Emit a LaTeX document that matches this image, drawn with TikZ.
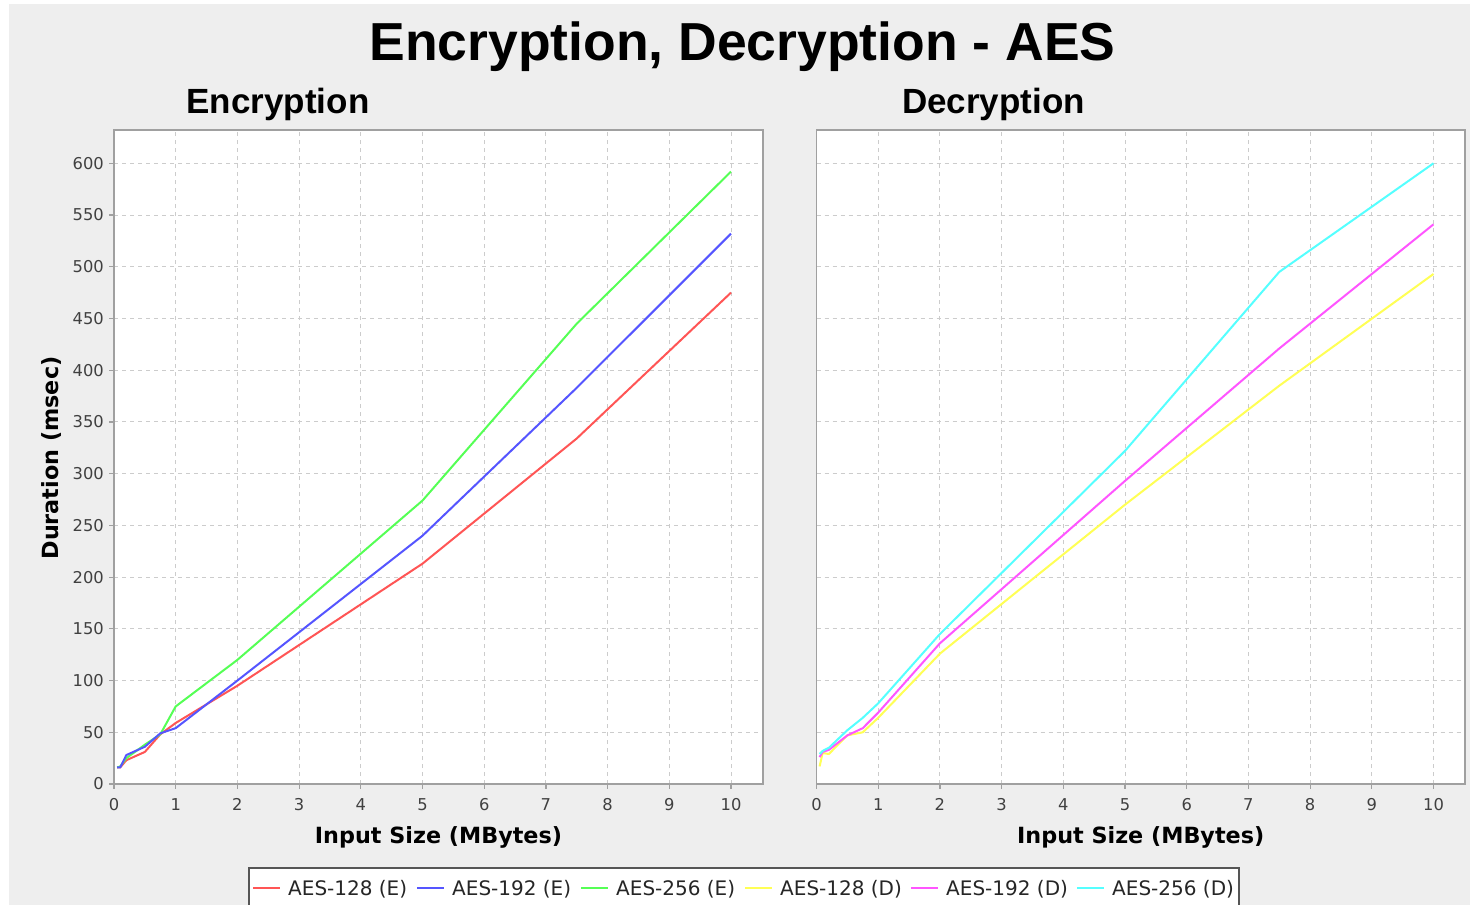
\documentclass[tikz,border=0pt]{standalone}
\usepackage{fontspec}
\setmainfont{DejaVu Sans}
\newfontfamily\titlefont{Liberation Sans}
\definecolor{bgc}{HTML}{EEEEEE}
\definecolor{gridc}{HTML}{CCCCCC}
\definecolor{framec}{HTML}{A0A0A0}
\definecolor{tickc}{HTML}{404040}
\definecolor{legc}{HTML}{555555}
\definecolor{sred}{HTML}{FF5555}
\definecolor{sblue}{HTML}{5555FF}
\definecolor{sgreen}{HTML}{55FF55}
\definecolor{syellow}{HTML}{FFFF55}
\definecolor{smag}{HTML}{FF55FF}
\definecolor{scyan}{HTML}{55FFFF}
\tikzset{
  gridline/.style={draw=gridc, line width=1pt, dash pattern=on 4pt off 4pt},
  framebox/.style={draw=framec, line width=1.6pt},
  tickline/.style={draw=framec, line width=1.2pt},
  ticklab/.style={text=tickc, inner sep=0pt, font=\fontsize{16.3}{18}\selectfont},
  axlab/.style={inner sep=0pt, font=\fontsize{22.3}{26}\selectfont\bfseries},
  ser/.style={line width=2pt, line join=round},
  legtext/.style={inner sep=0pt, text=black!85, font=\fontsize{20}{22}\selectfont, anchor=base west},
  legline/.style={line width=1.8pt}
}
\begin{document}
\begin{tikzpicture}[x=1pt,y=-1pt]
\useasboundingbox (0,0) rectangle (1470,905);
\fill[white] (0,0) rectangle (1470,905);
\fill[bgc] (9,4) rectangle (1470,905);

% titles
\node[anchor=base, inner sep=0pt, font=\titlefont\fontsize{53.5}{60}\selectfont\bfseries] (title) at (742.5,60) {Encryption, Decryption - AES};
\node[anchor=base, inner sep=0pt, font=\titlefont\fontsize{35}{40}\selectfont\bfseries] (enctitle) at (278,113) {Encryption};
\node[anchor=base, inner sep=0pt, font=\titlefont\fontsize{35}{40}\selectfont\bfseries] (dectitle) at (993.5,113) {Decryption};

% left panel
\fill[white] (114,130) rectangle (763,784);
\begin{scope}[shift={(114,784)}, x=61.7pt, y=1.0345pt]
  \foreach \i in {1,...,10} \draw[gridline] (\i,0) -- (\i,632.2);
  \foreach \j in {50,100,...,600} \draw[gridline] (0,\j) -- (10.52,\j);
  \draw[framebox] (0,0) rectangle (10.52,632.2);
  \foreach \j in {0,50,...,600} {
    \draw[tickline] (0,\j) -- ++(-5pt,0pt);
    \node[ticklab, anchor=east, xshift=-10pt] (ly\j) at (0,\j) {\j};
  }
  \foreach \i in {0,...,10} {
    \draw[tickline] (\i,0) -- ++(0pt,-5pt);
    \node[ticklab, anchor=base, yshift=-26pt] (lx\i) at (\i,0) {\i};
  }
  \draw[ser, sred] (0.05,16) -- (0.1,16) -- (0.2,23) -- (0.5,31) -- (0.75,48) -- (1,59) -- (2,95) -- (5,213) -- (7.5,334) -- (10,475);
  \draw[ser, sgreen] (0.05,16) -- (0.1,17) -- (0.2,25) -- (0.5,38) -- (0.75,48) -- (1,75) -- (2,120) -- (5,274) -- (7.5,445) -- (10,592);
  \draw[ser, sblue] (0.05,16) -- (0.1,16) -- (0.2,28) -- (0.5,36) -- (0.75,49) -- (1,54) -- (2,100) -- (5,240) -- (7.5,383) -- (10,532);
\end{scope}

% right panel
\fill[white] (816.5,130) rectangle (1465,784);
\begin{scope}[shift={(816.5,784)}, x=61.7pt, y=1.0345pt]
  \foreach \i in {1,...,10} \draw[gridline] (\i,0) -- (\i,632.2);
  \foreach \j in {50,100,...,600} \draw[gridline] (0,\j) -- (10.51,\j);
  \draw[framebox] (0,0) rectangle (10.51,632.2);
  \foreach \i in {0,...,10} {
    \draw[tickline] (\i,0) -- ++(0pt,-5pt);
    \node[ticklab, anchor=base, yshift=-26pt] (rx\i) at (\i,0) {\i};
  }
  \draw[ser, syellow] (0.05,17) -- (0.1,30) -- (0.2,29) -- (0.5,47) -- (0.75,50) -- (1,64) -- (2,126) -- (5,270) -- (7.5,385) -- (10,493);
  \draw[ser, smag] (0.05,26) -- (0.1,31) -- (0.2,33) -- (0.5,47) -- (0.75,54) -- (1,69) -- (2,136) -- (5,293) -- (7.5,421) -- (10,541);
  \draw[ser, scyan] (0.05,29) -- (0.1,32) -- (0.2,35) -- (0.5,52) -- (0.75,64) -- (1,78) -- (2,145) -- (5,322) -- (7.5,495) -- (10,600);
\end{scope}

% axis labels
\node[axlab, anchor=base] (xlabl) at (438.5,843) {Input Size (MBytes)};
\node[axlab, anchor=base] (xlabr) at (1140.7,843) {Input Size (MBytes)};
\node[axlab, anchor=base, rotate=90] (ylab) at (58,458) {Duration (msec)};

% legend
\draw[draw=legc, fill=white, line width=2pt] (249,867.5) rectangle (1239,915);
\draw[legline, sred] (253,888) -- (280,888);
\node[legtext] (l1) at (288,895.5) {AES-128 (E)};
\draw[legline, sblue] (417,888) -- (444,888);
\node[legtext] (l2) at (452,895.5) {AES-192 (E)};
\draw[legline, sgreen] (581,888) -- (608,888);
\node[legtext] (l3) at (616,895.5) {AES-256 (E)};
\draw[legline, syellow] (745,888) -- (772,888);
\node[legtext] (l4) at (780,895.5) {AES-128 (D)};
\draw[legline, smag] (911,888) -- (938,888);
\node[legtext] (l5) at (946,895.5) {AES-192 (D)};
\draw[legline, scyan] (1077,888) -- (1104,888);
\node[legtext] (l6) at (1112,895.5) {AES-256 (D)};
\end{tikzpicture}
\end{document}
